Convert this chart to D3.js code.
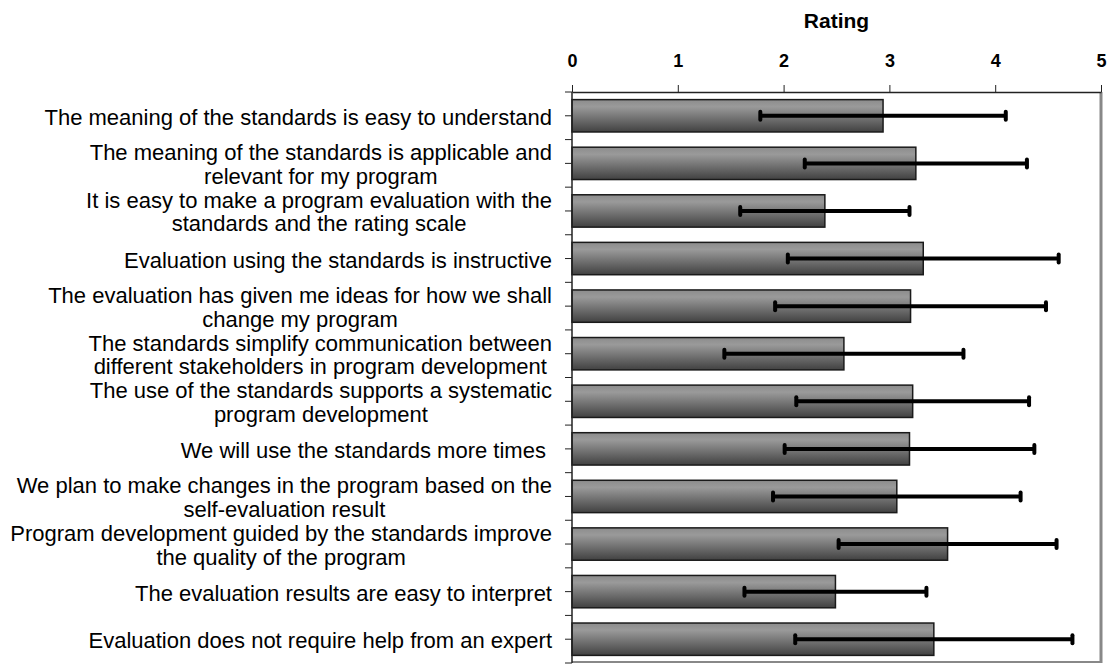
<!DOCTYPE html>
<html>
<head>
<meta charset="utf-8">
<script src="https://cdn.jsdelivr.net/npm/d3@7"></script>
<style>
  body { margin: 0; background: #fff; }
  text { font-family: Arial, "Liberation Sans", sans-serif; }
</style>
</head>
<body>
<div id="plot"></div>
<script>
// statements, lines split with "|"
var categories = [
  "The meaning of the standards is easy to understand",
  "The meaning of the standards is applicable and|relevant for my program",
  "It is easy to make a program evaluation with the|standards and the rating scale",
  "Evaluation using the standards is instructive",
  "The evaluation has given me ideas for how we shall|change my program",
  "The standards simplify communication between|different stakeholders in program development",
  "The use of the standards supports a systematic|program development",
  "We will use the standards more times ",
  "We plan to make changes in the program based on the|self-evaluation result",
  "Program development guided by the standards improve|the quality of the program",
  "The evaluation results are easy to interpret",
  "Evaluation does not require help from an expert"
];
// mean rating and standard deviation
var means = [2.94, 3.25, 2.39, 3.32, 3.20, 2.57, 3.22, 3.19, 3.07, 3.55, 2.49, 3.42];
var sds   = [1.16, 1.05, 0.80, 1.28, 1.28, 1.13, 1.10, 1.18, 1.17, 1.03, 0.86, 1.31];
var xTicks = [0, 1, 2, 3, 4, 5];
var axisTitle = "Rating";

var data = categories.map(function(c, i) { return {label: c, mean: means[i], sd: sds[i]}; });

var margin = {top: 92, right: 9, bottom: 1, left: 572},
    width = 1110 - margin.left - margin.right,
    height = 664 - margin.top - margin.bottom;

var svg = d3.select("div#plot")
  .append("svg")
    .attr("width", 1110)
    .attr("height", 664)
  .append("g")
    .attr("transform", "translate(" + margin.left + "," + margin.top + ")");

var x = d3.scaleLinear().domain([0, 5]).range([0, width]);
var y = d3.scaleBand().domain(categories).range([0, height])
  .paddingInner(0.32).paddingOuter(0.16);

// bar gradient
var grad = svg.append("defs").append("linearGradient")
  .attr("id", "barGrad").attr("x1", 0).attr("y1", 0).attr("x2", 0).attr("y2", 1);
grad.append("stop").attr("offset", "0%").attr("stop-color", "#8c8c8c");
grad.append("stop").attr("offset", "22%").attr("stop-color", "#9a9a9a");
grad.append("stop").attr("offset", "100%").attr("stop-color", "#414141");

// plot area border (right + bottom, gray)
svg.append("line")
  .attr("x1", width).attr("x2", width).attr("y1", 0).attr("y2", height)
  .attr("stroke", "#888").attr("stroke-width", 3);
svg.append("line")
  .attr("x1", 0).attr("x2", width).attr("y1", height - 1).attr("y2", height - 1)
  .attr("stroke", "#888").attr("stroke-width", 2);

// bars
svg.append("g")
  .selectAll("rect")
  .data(data)
  .enter()
  .append("rect")
    .attr("x", 0)
    .attr("y", d => y(d.label))
    .attr("width", d => x(d.mean))
    .attr("height", y.bandwidth())
    .attr("fill", "url(#barGrad)")
    .attr("stroke", "#1a1a1a")
    .attr("stroke-width", 1.5);

// error bars
var eb = svg.append("g").selectAll("g").data(data).enter().append("g")
  .attr("transform", d => "translate(0," + (y(d.label) + y.bandwidth() / 2) + ")");
eb.append("line")
  .attr("x1", d => x(d.mean - d.sd))
  .attr("x2", d => x(d.mean + d.sd))
  .attr("stroke", "#000").attr("stroke-width", 4);
eb.selectAll("line.cap")
  .data(d => [d.mean - d.sd, d.mean + d.sd])
  .enter().append("line")
    .attr("class", "cap")
    .attr("x1", v => x(v)).attr("x2", v => x(v))
    .attr("y1", -4).attr("y2", 4)
    .attr("stroke", "#000").attr("stroke-width", 4)
    .attr("stroke-linecap", "round");

// top axis
var xAxis = svg.append("g")
  .call(d3.axisTop(x).tickValues(xTicks).tickFormat(d3.format("d")).tickSize(7).tickSizeOuter(0));
xAxis.select(".domain").attr("stroke", "#222").attr("stroke-width", 1.5);
xAxis.selectAll(".tick line").attr("stroke", "#222");
xAxis.selectAll(".tick text")
  .attr("y", -25)
  .attr("font-size", 18)
  .attr("font-weight", "bold")
  .attr("fill", "#000")
  .style("font-family", "Arial, 'Liberation Sans', sans-serif");

svg.append("text")
  .attr("x", width / 2)
  .attr("y", -64)
  .attr("text-anchor", "middle")
  .attr("font-size", 21)
  .attr("font-weight", "bold")
  .text(axisTitle);

// left axis line with ticks at band edges and centers
svg.append("line")
  .attr("x1", 0).attr("x2", 0).attr("y1", 0).attr("y2", height)
  .attr("stroke", "#222").attr("stroke-width", 1.5);
var step = y.step();
var yTickPos = d3.range(0, categories.length * 2 + 1).map(i => i * step / 2);
svg.append("g").selectAll("line")
  .data(yTickPos)
  .enter().append("line")
    .attr("x1", -7).attr("x2", 0)
    .attr("y1", d => d).attr("y2", d => d)
    .attr("stroke", "#222");

// category labels (right aligned block, lines centered inside)
var labelRight = -20, lineH = 23.5;
data.forEach(function(d) {
  var lines = d.label.split("|");
  var cy = y(d.label) + y.bandwidth() / 2;
  var g = svg.append("g");
  var texts = lines.map(function(l, i) {
    return g.append("text")
      .attr("font-size", 22)
      .attr("fill", "#000")
      .style("white-space", "pre")
      .attr("y", cy + 9 - (lines.length - 1) * 12 + i * lineH)
      .text(l);
  });
  var w = d3.max(texts, t => t.node().getComputedTextLength());
  texts.forEach(function(t) {
    t.attr("text-anchor", "middle").attr("x", labelRight - w / 2);
  });
});
</script>
</body>
</html>
